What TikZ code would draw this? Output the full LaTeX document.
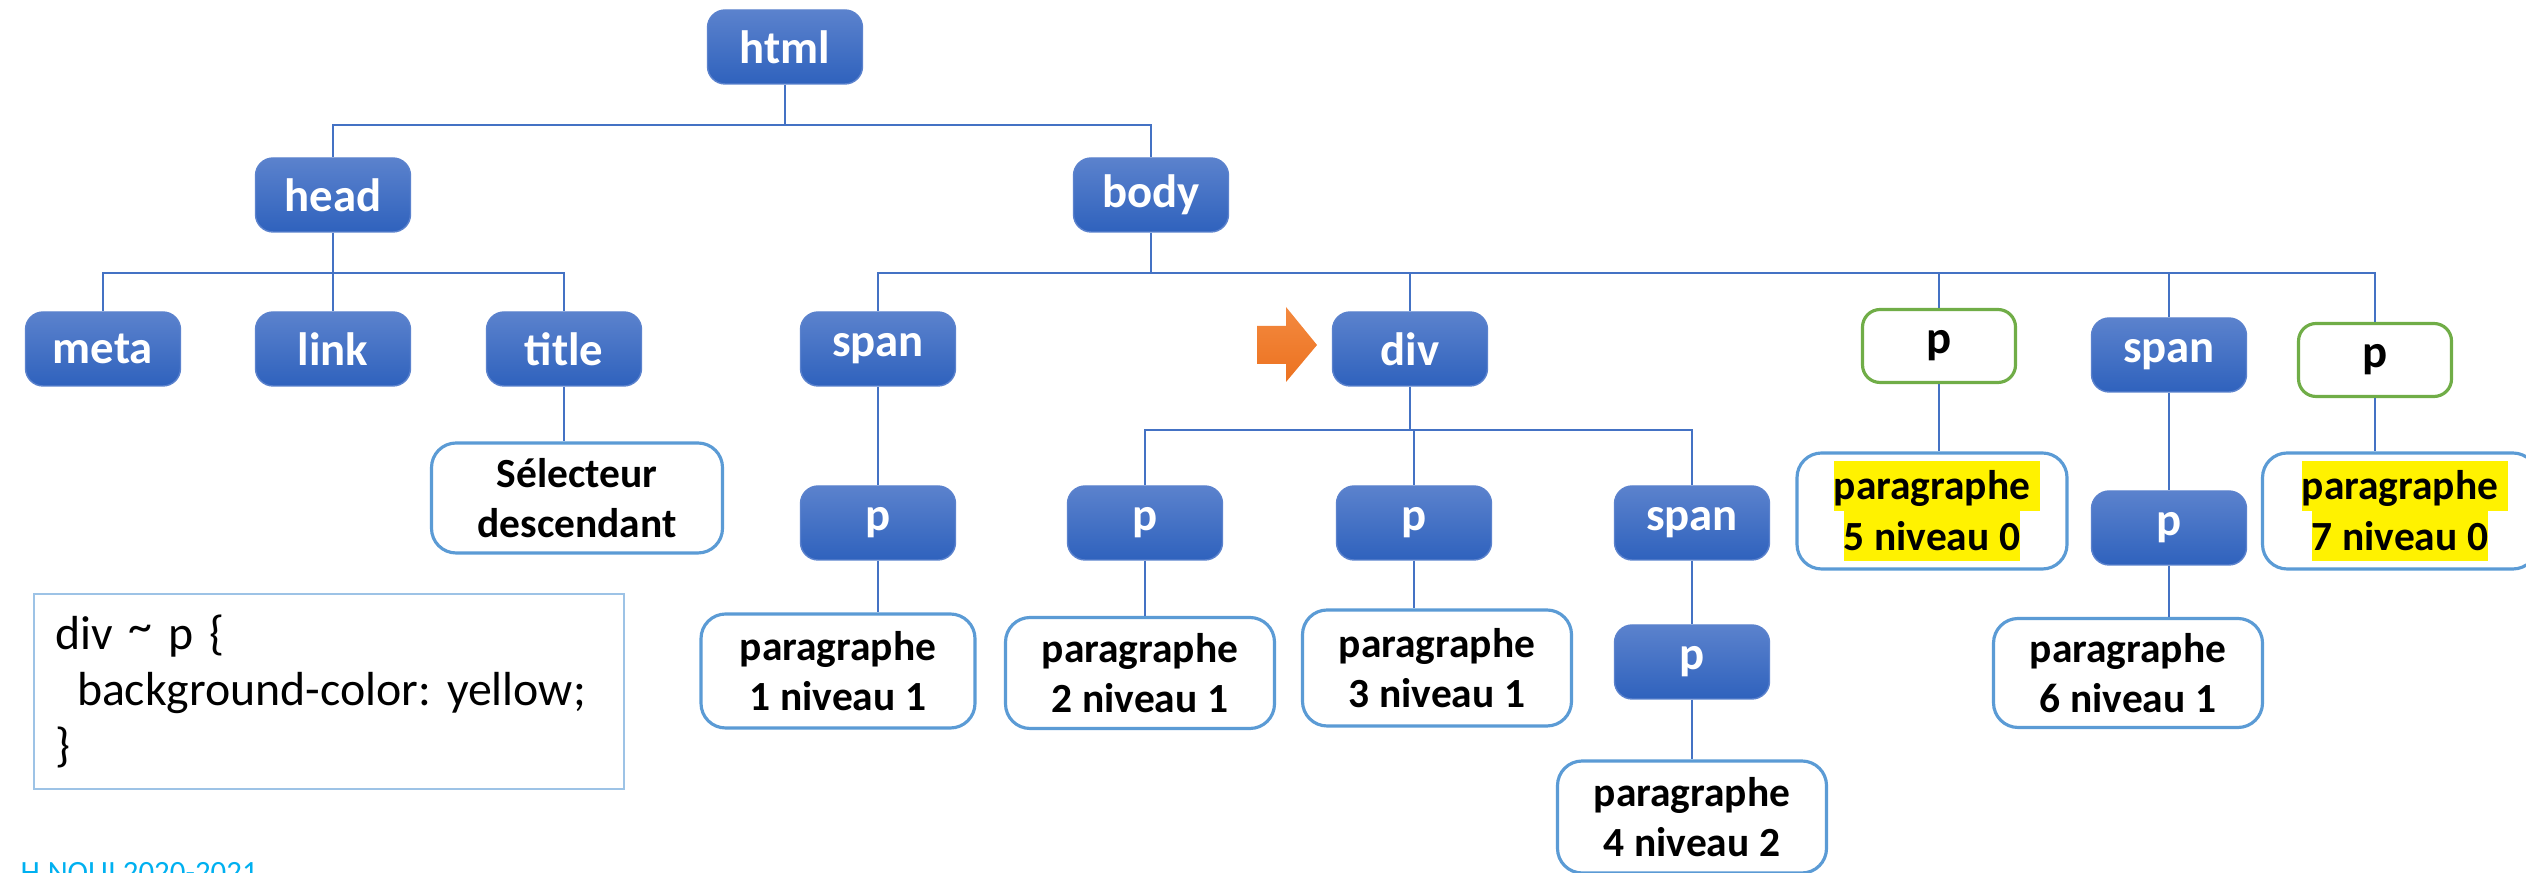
\documentclass[tikz,border=0pt]{standalone}
\usepackage{fontspec}
\setmainfont{Carlito}
\frenchspacing

\definecolor{tagtop}{HTML}{5B82CD}
\definecolor{tagbot}{HTML}{2F62BD}
\definecolor{wirecol}{HTML}{4472C4}
\definecolor{leafcol}{HTML}{5B9BD5}
\definecolor{greencol}{HTML}{70AD47}
\definecolor{arrowtop}{HTML}{F3893F}
\definecolor{arrowbot}{HTML}{EC7220}
\definecolor{codecol}{HTML}{9DC3E6}
\definecolor{signcol}{HTML}{00B0F0}

% yellow highlight, one per line of text
\newcommand{\hlstrut}{\rule[-3.2pt]{0pt}{14.3pt}}
\newcommand{\hl}[1]{{\setlength{\fboxsep}{0pt}\colorbox{yellow}{\hlstrut#1}}}

\tikzset{
  tagbox/.style={rounded corners=5pt, top color=tagtop, bottom color=tagbot,
    draw=tagtop, text=white, inner sep=0pt,
    font=\fontsize{13.3}{16}\selectfont\bfseries,
    minimum width=1.55cm, minimum height=0.74cm},
  greenbox/.style={rounded corners=5pt, draw=greencol, line width=0.9pt,
    fill=white, inner sep=0pt, font=\fontsize{13.3}{16}\selectfont\bfseries,
    minimum width=1.53cm, minimum height=0.73cm},
  leafbox/.style={rounded corners=7pt, draw=leafcol, line width=0.9pt,
    fill=white, align=center, inner sep=0pt,
    font=\fontsize{11.8}{14.3}\selectfont\bfseries,
    minimum width=2.69cm, minimum height=1.12cm},
  wire/.style={draw=wirecol, line width=0.5pt},
}

\begin{document}
\begin{tikzpicture}
  \useasboundingbox (0,0) rectangle (25.26,-8.73);

  % tree levels
  \node[tagbox] (html) at (7.85,-0.47) {html};
  \node[tagbox] (head) at (3.33,-1.95) {head};
  \node[tagbox] (body) at (11.51,-1.95) {body};

  \node[tagbox] (meta)  at (1.03,-3.49) {meta};
  \node[tagbox] (link)  at (3.33,-3.49) {link};
  \node[tagbox] (title) at (5.64,-3.49) {title};
  \node[leafbox, minimum width=2.91cm, minimum height=1.10cm] (sel) at (5.77,-4.98) {Sélecteur\\descendant};

  \node[tagbox] (span1) at (8.78,-3.49) {span};
  \node[tagbox] (div)   at (14.10,-3.49) {div};
  \node[greenbox] (pv)  at (19.39,-3.46) {p};
  \node[tagbox] (span2) at (21.69,-3.55) {span};
  \node[greenbox] (pw)  at (23.75,-3.60) {p};

  \node[tagbox] (p1)    at (8.78,-5.23) {p};
  \node[tagbox] (p2)    at (11.45,-5.23) {p};
  \node[tagbox] (p3)    at (14.14,-5.23) {p};
  \node[tagbox] (span3) at (16.92,-5.23) {span};
  \node[tagbox] (p4)    at (16.92,-6.62) {p};
  \node[tagbox] (p6)    at (21.69,-5.28) {p};

  % paragraph texts
  \node[leafbox, minimum width=2.74cm, minimum height=1.14cm] (par1) at (8.38,-6.71) {paragraphe\\1 niveau 1};
  \node[leafbox, minimum height=1.11cm] (par2) at (11.40,-6.73) {paragraphe\\2 niveau 1};
  \node[leafbox, minimum height=1.16cm] (par3) at (14.37,-6.68) {paragraphe\\3 niveau 1};
  \node[leafbox] (par4) at (16.92,-8.17) {paragraphe\\4 niveau 2};
  \node[leafbox, minimum width=2.70cm, minimum height=1.16cm] (par5) at (19.32,-5.11) {\hl{paragraphe}\rlap{\hl{\ }}\\\hl{5 niveau 0}};
  \node[leafbox, minimum height=1.09cm] (par6) at (21.28,-6.73) {paragraphe\\6 niveau 1};
  \node[leafbox, minimum width=2.75cm, minimum height=1.16cm] (par7) at (24.00,-5.11) {\hl{paragraphe}\rlap{\hl{\ }}\\\hl{7 niveau 0}};

  % connectors
  \draw[wire] (html.south) -- ++(0,-0.40) coordinate (hb) -| (head.north);
  \draw[wire] (hb) -| (body.north);
  \draw[wire] (head.south) -- ++(0,-0.40) coordinate (eb);
  \foreach \c in {meta,link,title}
    \draw[wire] (eb) -| (\c.north);
  \draw[wire] (body.south) -- ++(0,-0.40) coordinate (bb);
  \foreach \c in {span1,div,pv,span2,pw}
    \draw[wire] (bb) -| (\c.north);
  \draw[wire] (div.south) -- ++(0,-0.43) coordinate (db);
  \foreach \c in {p2,p3,span3}
    \draw[wire] (db) -| (\c.north);

  \draw[wire] (span1) -- (p1);
  \draw[wire] (span3) -- (p4);
  \draw[wire] (span2) -- (p6);
  \foreach \a/\b in {title/sel,p1/par1,p2/par2,p3/par3,p4/par4,pv/par5,p6/par6,pw/par7}
    \draw[wire] (\a.south) -- (\a.south |- \b.north);

  % orange pointer on div
  \path[top color=arrowtop, bottom color=arrowbot]
    (12.57,-3.26) -- (12.86,-3.26) -- (12.86,-3.07) -- (13.17,-3.45)
    -- (12.86,-3.82) -- (12.86,-3.64) -- (12.57,-3.64) -- cycle;

  % css rule
  \node[draw=codecol, line width=0.6pt, minimum width=5.90cm, minimum height=1.95cm,
    text width=5.48cm, inner xsep=0.21cm, align=left,
    font=\fontsize{13.6}{16}\selectfont] (code) at (3.29,-6.915)
    {div \raisebox{2pt}{\textasciitilde} p \{\\\hspace*{0.22cm}background-color: yellow;\\\}};

  \node[anchor=base west, text=signcol, inner sep=0pt,
    font=\fontsize{8.8}{10}\selectfont] (sign) at (0.20,-8.83) {H.NOUI 2020-2021};
\end{tikzpicture}
\end{document}
